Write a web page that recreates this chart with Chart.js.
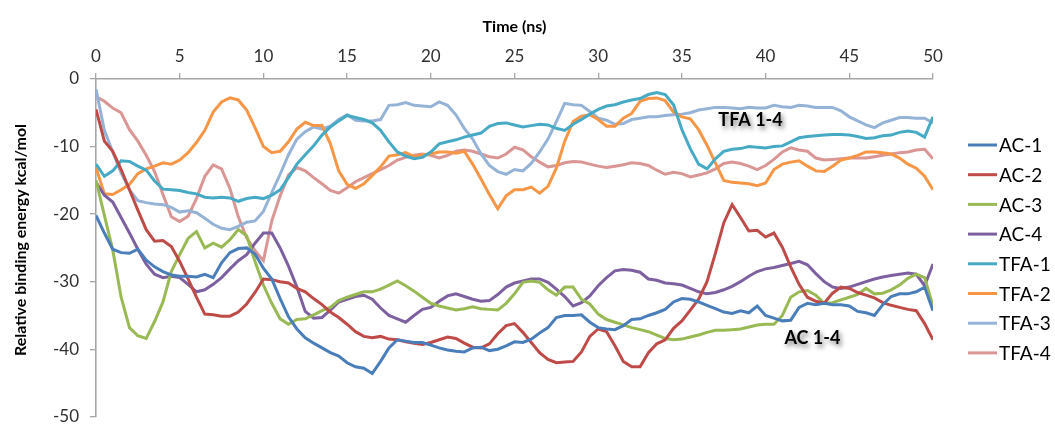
<!DOCTYPE html>
<html>
<head>
<meta charset="utf-8">
<script src="https://cdn.jsdelivr.net/npm/chart.js@4.4.1/dist/chart.umd.min.js"></script>
<style>
  html, body { margin: 0; padding: 0; background: #ffffff; }
  #wrap { width: 1055px; height: 438px; }
</style>
</head>
<body>
<div id="wrap"><canvas id="chart" width="1055" height="438"></canvas></div>
<script>
// Sampling times (ns)
const timeNs = [
  0,0.5,1,1.5,2,2.5,3,3.5,4,4.5,5,5.5,6,6.5,7,7.5,8,8.5,9,9.5,
  10,10.5,11,11.5,12,12.5,13,13.5,14,14.5,15,15.5,16,16.5,17,17.5,18,18.5,19,19.5,
  20,20.5,21,21.5,22,22.5,23,23.5,24,24.5,25,25.5,26,26.5,27,27.5,28,28.5,29,29.5,
  30,30.5,31,31.5,32,32.5,33,33.5,34,34.5,35,35.5,36,36.5,37,37.5,38,38.5,39,39.5,
  40,40.5,41,41.5,42,42.5,43,43.5,44,44.5,45,45.5,46,46.5,47,47.5,48,48.5,49,49.5,50
];

// Relative binding energy (kcal/mol) per complex
const ac1 = [
  -20.2,-22.8,-25.2,-25.7,-25.8,-25.2,-26.8,-27.8,-28.5,-29.0,-29.2,-29.2,-29.3,-28.9,-29.4,-27.2,-25.7,-25.1,-25.0,-25.9,
  -28.0,-29.6,-32.5,-35.2,-37.0,-38.3,-39.1,-39.8,-40.5,-41.0,-42.0,-42.6,-42.8,-43.6,-41.8,-39.8,-38.6,-38.8,-39.0,-39.0,
  -39.4,-39.8,-40.1,-40.3,-40.4,-39.8,-39.7,-40.2,-40.0,-39.5,-38.9,-39.0,-38.5,-37.6,-36.8,-35.3,-35.0,-35.0,-34.9,-36.0,
  -36.8,-37.0,-37.1,-36.5,-35.6,-35.5,-35.0,-34.6,-34.1,-33.0,-32.5,-32.6,-33.0,-33.5,-34.0,-34.5,-34.7,-34.3,-34.6,-33.6,
  -35.0,-35.4,-35.8,-35.7,-33.8,-33.2,-33.4,-33.2,-33.4,-33.4,-33.6,-34.4,-34.6,-35.0,-33.4,-32.2,-31.8,-31.8,-31.5,-30.8,-34.3
];
const ac2 = [
  -4.5,-9.2,-10.7,-13.4,-16.4,-19.4,-22.3,-24.0,-23.9,-24.8,-27.0,-29.6,-32.3,-34.8,-34.9,-35.1,-35.1,-34.5,-33.3,-31.6,
  -29.6,-29.7,-30.0,-30.2,-31.0,-31.5,-32.5,-33.4,-34.5,-35.3,-36.3,-37.4,-38.1,-38.3,-38.1,-38.5,-38.6,-38.9,-39.1,-39.3,
  -39.0,-38.6,-38.2,-38.4,-39.1,-39.7,-39.8,-39.2,-37.7,-36.5,-36.2,-37.5,-39.0,-40.5,-41.5,-42.0,-41.9,-41.8,-40.4,-38.1,
  -37.0,-37.4,-39.5,-41.8,-42.6,-42.6,-40.5,-39.2,-38.6,-36.9,-35.8,-34.2,-32.6,-30.0,-25.8,-21.3,-18.6,-20.5,-22.5,-22.4,
  -23.4,-22.8,-24.9,-27.8,-30.4,-32.3,-32.9,-33.2,-31.7,-30.8,-31.0,-31.6,-32.0,-32.4,-33.1,-33.5,-33.8,-34.1,-34.3,-36.2,-38.6
];
const ac3 = [
  -15.0,-20.2,-25.3,-32.3,-36.8,-38.0,-38.4,-35.9,-33.0,-28.5,-26.0,-23.6,-22.6,-25.0,-24.3,-24.9,-23.8,-22.3,-23.2,-27.0,
  -30.5,-33.2,-35.5,-36.3,-35.6,-35.5,-34.9,-34.3,-33.8,-32.8,-32.3,-31.9,-31.5,-31.5,-31.1,-30.5,-29.9,-30.6,-31.4,-32.3,
  -33.2,-33.6,-33.9,-34.2,-34.0,-33.7,-34.0,-34.1,-34.2,-33.2,-31.8,-30.1,-29.9,-30.1,-31.2,-32.0,-30.8,-30.8,-32.6,-33.3,
  -34.8,-35.6,-36.0,-36.4,-36.8,-37.1,-37.4,-37.9,-38.4,-38.6,-38.5,-38.2,-37.9,-37.5,-37.2,-37.2,-37.1,-37.0,-36.7,-36.4,
  -36.3,-36.3,-35.0,-32.3,-31.5,-31.3,-32.0,-33.2,-33.1,-32.7,-32.3,-31.9,-31.0,-31.8,-31.7,-31.2,-30.5,-29.5,-28.9,-29.4,-33.6
];
const ac4 = [
  -15.3,-17.2,-18.2,-20.5,-22.8,-25.2,-27.4,-28.9,-29.4,-29.2,-29.4,-30.4,-31.5,-31.2,-30.4,-29.4,-28.1,-26.9,-26.0,-24.3,
  -22.8,-22.8,-25.0,-27.7,-30.8,-34.4,-35.4,-35.3,-34.2,-33.0,-32.6,-32.2,-32.0,-32.6,-33.9,-35.0,-35.5,-36.0,-35.0,-34.1,
  -33.8,-32.9,-32.1,-31.8,-32.2,-32.6,-32.9,-32.8,-31.9,-30.8,-30.2,-29.9,-29.6,-29.6,-30.1,-31.1,-32.2,-33.6,-33.1,-32.1,
  -30.6,-29.4,-28.4,-28.2,-28.3,-28.6,-29.6,-29.8,-30.2,-30.3,-30.5,-31.0,-31.5,-31.8,-31.6,-31.2,-30.7,-30.0,-29.2,-28.5,
  -28.1,-27.9,-27.6,-27.3,-27.0,-27.5,-28.8,-30.0,-30.8,-31.0,-30.8,-30.4,-30.0,-29.6,-29.3,-29.1,-28.9,-28.7,-28.9,-30.6,-27.4
];
const tfa1 = [
  -12.6,-14.4,-13.6,-12.1,-12.2,-12.9,-13.5,-15.1,-16.3,-16.4,-16.5,-16.8,-17.0,-17.5,-17.6,-17.5,-17.6,-18.1,-17.7,-17.5,
  -17.7,-17.2,-16.4,-14.6,-12.6,-11.2,-9.9,-8.3,-7.1,-6.2,-5.4,-5.7,-6.0,-6.5,-7.6,-9.3,-10.8,-11.4,-11.8,-11.6,
  -10.8,-9.6,-9.3,-9.0,-8.6,-8.3,-8.0,-7.0,-6.6,-6.5,-6.8,-7.1,-6.9,-6.7,-6.8,-7.3,-7.6,-6.7,-6.0,-5.2,
  -4.5,-4.0,-3.8,-3.4,-3.1,-2.9,-2.3,-2.0,-2.3,-3.8,-7.5,-10.3,-12.6,-13.3,-11.8,-10.7,-10.4,-10.3,-10.0,-10.1,
  -10.2,-10.0,-9.9,-9.3,-8.7,-8.5,-8.4,-8.3,-8.2,-8.2,-8.3,-8.5,-8.8,-8.7,-8.4,-8.3,-7.9,-7.7,-7.9,-8.6,-5.6
];
const tfa2 = [
  -13.1,-17.0,-17.1,-16.4,-15.6,-14.0,-13.3,-12.9,-12.4,-12.6,-12.0,-10.9,-9.4,-7.6,-4.9,-3.4,-2.8,-3.1,-4.6,-7.2,
  -10.0,-10.9,-10.7,-9.3,-7.4,-6.4,-6.9,-6.9,-9.6,-13.6,-15.6,-16.2,-15.5,-14.3,-13.0,-11.4,-11.2,-10.9,-11.5,-11.2,
  -11.1,-10.8,-10.8,-11.0,-10.7,-12.6,-14.8,-17.1,-19.2,-17.3,-16.4,-16.4,-16.0,-16.9,-15.9,-13.2,-9.2,-6.3,-5.5,-5.3,
  -6.0,-7.0,-7.0,-5.8,-5.1,-3.3,-2.9,-2.8,-3.2,-4.9,-5.6,-5.9,-7.5,-9.8,-12.4,-15.0,-15.3,-15.4,-15.5,-15.8,
  -15.4,-13.4,-12.6,-12.3,-12.1,-12.9,-13.6,-13.7,-12.9,-12.0,-11.7,-11.3,-10.8,-10.8,-10.9,-11.1,-11.7,-12.6,-13.2,-14.4,-16.4
];
const tfa3 = [
  -1.5,-7.6,-10.8,-13.9,-16.4,-18.0,-18.3,-18.5,-18.6,-19.0,-19.7,-19.5,-19.8,-20.6,-21.5,-22.1,-22.3,-21.8,-21.2,-21.0,
  -19.6,-16.8,-14.1,-11.2,-8.9,-7.8,-7.1,-7.4,-7.0,-6.0,-5.3,-6.1,-6.2,-6.2,-6.0,-3.9,-3.8,-3.5,-3.9,-4.0,
  -4.1,-3.4,-3.9,-5.3,-7.3,-8.9,-11.1,-12.8,-13.7,-14.1,-13.4,-13.6,-12.5,-10.8,-8.9,-6.3,-3.6,-3.8,-3.9,-4.8,
  -5.8,-6.1,-6.7,-6.6,-6.0,-5.8,-5.6,-5.6,-5.4,-5.3,-5.2,-5.0,-4.6,-4.4,-4.2,-4.2,-4.3,-4.4,-4.2,-4.3,
  -4.3,-3.9,-4.1,-4.2,-3.9,-4.0,-4.2,-4.2,-4.2,-4.7,-5.6,-6.2,-6.8,-7.2,-6.5,-6.1,-5.7,-5.7,-5.8,-5.8,-6.5
];
const tfa4 = [
  -2.6,-3.3,-4.3,-5.0,-7.5,-9.2,-11.3,-13.7,-17.1,-20.4,-21.1,-20.3,-17.7,-14.4,-12.7,-13.3,-16.2,-20.4,-23.5,-25.4,
  -26.9,-21.0,-17.3,-14.2,-13.1,-13.6,-14.6,-15.5,-16.5,-16.9,-16.1,-15.2,-14.6,-14.0,-13.4,-12.8,-12.0,-11.6,-11.3,-11.1,
  -11.3,-11.7,-11.3,-10.7,-10.5,-10.7,-11.1,-11.5,-11.7,-11.1,-10.1,-10.5,-11.5,-12.3,-13.0,-12.8,-12.4,-12.2,-12.3,-12.6,
  -12.9,-13.1,-12.9,-12.7,-12.4,-12.5,-12.8,-13.5,-14.1,-13.8,-14.0,-14.5,-14.2,-13.9,-13.3,-12.5,-12.3,-12.5,-12.9,-13.4,
  -12.8,-11.9,-10.8,-10.2,-10.5,-10.7,-11.7,-12.0,-11.9,-11.8,-11.7,-11.7,-11.7,-11.5,-11.3,-11.1,-10.9,-10.8,-10.5,-10.4,-11.8
];

const seriesNames = ['AC-1','AC-2','AC-3','AC-4','TFA-1','TFA-2','TFA-3','TFA-4'];
const seriesValues = [ac1, ac2, ac3, ac4, tfa1, tfa2, tfa3, tfa4];
const seriesColors = ['#4A7EBB','#BE4B48','#98B954','#7D60A0','#46AAC5','#F79646','#95B3D7','#D99694'];

const xTitle = 'Time (ns)';
const yTitle = 'Relative binding energy kcal/mol';

// Group labels placed in data coordinates
const groupLabels = [
  { text: 'TFA 1-4', t: 39.1, e: -6.1 },
  { text: 'AC 1-4',  t: 42.8, e: -38.4 }
];

const FONT = "Lato, 'Open Sans', 'Liberation Sans', sans-serif";
const AXIS_GREY = '#A6A6A6';

const datasets = seriesNames.map((name, i) => ({
  label: name,
  data: seriesValues[i].map((v, k) => ({ x: timeNs[k], y: v })),
  borderColor: seriesColors[i],
  backgroundColor: seriesColors[i],
  borderWidth: 3,
  pointRadius: 0,
  pointHoverRadius: 0,
  tension: 0,
  fill: false
}));

// Axis title, legend and group labels drawn on top of the chart
const decorations = {
  id: 'decorations',
  afterDraw(chart) {
    const ctx = chart.ctx;
    const xs = chart.scales.x, ys = chart.scales.y;
    ctx.save();

    // vertical axis title
    ctx.fillStyle = '#000000';
    ctx.font = "bold 16px " + FONT;
    ctx.textAlign = 'center';
    ctx.textBaseline = 'middle';
    ctx.translate(21, 240);
    ctx.rotate(-Math.PI / 2);
    ctx.fillText(yTitle, 0, 0);
    ctx.setTransform(1, 0, 0, 1, 0, 0);

    // legend
    const lx0 = 968, lx1 = 997, ly0 = 145, lstep = 29.7;
    ctx.font = "19px " + FONT;
    ctx.textAlign = 'left';
    ctx.textBaseline = 'middle';
    chart.data.datasets.forEach((ds, i) => {
      const y = ly0 + i * lstep;
      ctx.strokeStyle = ds.borderColor;
      ctx.lineWidth = 3;
      ctx.beginPath();
      ctx.moveTo(lx0, y);
      ctx.lineTo(lx1, y);
      ctx.stroke();
      ctx.fillStyle = '#000000';
      ctx.fillText(ds.label, lx1 + 2, y + 1);
    });

    // group labels with soft shadow
    ctx.font = "bold 18px " + FONT;
    ctx.textAlign = 'center';
    ctx.textBaseline = 'middle';
    groupLabels.forEach(g => {
      const px = xs.getPixelForValue(g.t);
      const py = ys.getPixelForValue(g.e);
      ctx.shadowColor = 'rgba(0,0,0,0.55)';
      ctx.shadowBlur = 5;
      ctx.shadowOffsetX = 2;
      ctx.shadowOffsetY = 3;
      ctx.fillStyle = '#000000';
      ctx.fillText(g.text, px, py);
    });
    ctx.restore();
  }
};

new Chart(document.getElementById('chart'), {
  type: 'line',
  data: { datasets },
  options: {
    responsive: false,
    animation: false,
    devicePixelRatio: 1,
    layout: { padding: { left: 0, top: 0, right: 122, bottom: 6 } },
    plugins: {
      legend: { display: false },
      tooltip: { enabled: false }
    },
    scales: {
      x: {
        type: 'linear',
        position: 'top',
        min: 0,
        max: 50,
        afterFit(scale) { scale.height = 79; },
        ticks: {
          stepSize: 5,
          color: '#303030',
          font: { family: FONT, size: 17 },
          padding: 6,
          maxRotation: 0
        },
        grid: {
          drawOnChartArea: false,
          drawTicks: true,
          tickLength: 6,
          color: AXIS_GREY,
          lineWidth: 1.3
        },
        border: { color: AXIS_GREY, width: 1.6 },
        title: {
          display: true,
          text: xTitle,
          color: '#000000',
          font: { family: FONT, size: 16, weight: 'bold' },
          padding: { top: 17, bottom: 0 }
        }
      },
      y: {
        type: 'linear',
        min: -50,
        max: 0,
        afterFit(scale) { scale.width = 96; },
        ticks: {
          stepSize: 10,
          color: '#303030',
          font: { family: FONT, size: 17 },
          padding: 11
        },
        grid: {
          drawOnChartArea: false,
          drawTicks: true,
          tickLength: 6,
          color: AXIS_GREY,
          lineWidth: 1.3
        },
        border: { color: AXIS_GREY, width: 1.6 }
      }
    }
  },
  plugins: [decorations]
});
</script>
</body>
</html>
